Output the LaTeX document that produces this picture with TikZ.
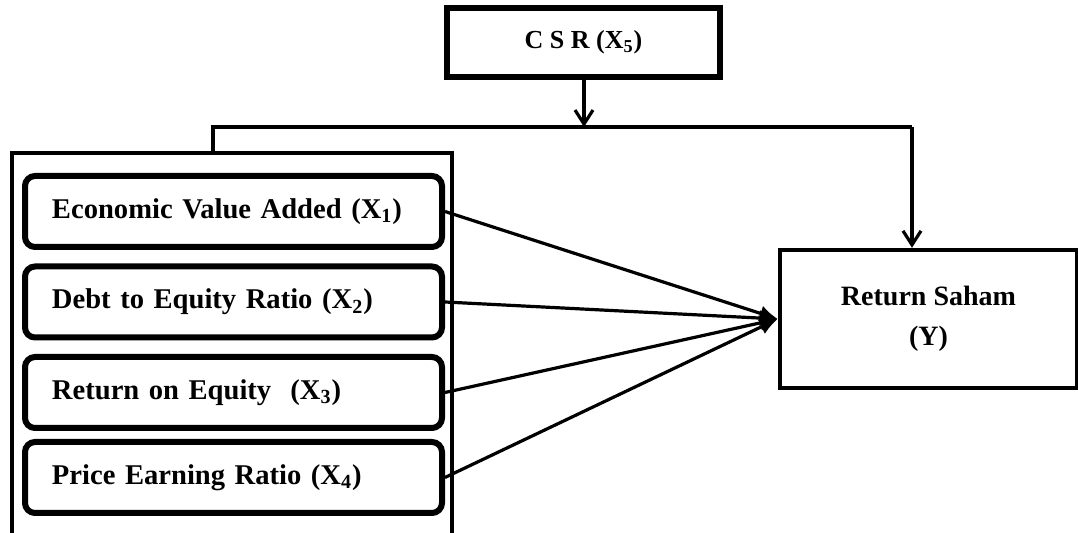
\documentclass[tikz,border=0pt]{standalone}
\usepackage{fontspec}
\setmainfont{Liberation Serif}
\usetikzlibrary{arrows.meta,positioning}
\tikzstyle{var}=[draw, line width=3pt, rounded corners=5pt, text width=181.5pt, inner xsep=13.5pt, minimum height=35.5pt, align=left, font=\fontsize{14.3}{16}\selectfont\bfseries]
\tikzstyle{box}=[draw, line width=2.2pt, align=center, font=\fontsize{14}{20}\selectfont\bfseries]
\tikzstyle{con}=[line width=1.6pt]
\newcommand{\xsub}[1]{(X\textsubscript{#1})}

\begin{document}
\begin{tikzpicture}[x=0.5pt,y=-0.5pt,>={Latex[length=9pt,width=8pt]}]
		    \useasboundingbox (0,0) rectangle (1078,533);
		    \clip (0,0) rectangle (1078,533);
		    \node [box, minimum width=136.5pt, minimum height=34.5pt, line width=2.6pt, font=\fontsize{13}{16}\selectfont\bfseries] (csr) at (583.5,42.5) {C S R \xsub{5}};
		    \node [box, minimum width=220pt, minimum height=196pt] (grp) at (232,349) {};
		    \node [var] (v1) at (233.5,211.5) {Economic Value Added \xsub{1}};
		    \node [var] (v2) at (233.5,302) {Debt to Equity Ratio \xsub{2}};
		    \node [var] (v3) at (233.5,392.5) {Return on Equity~ \xsub{3}};
		    \node [var] (v4) at (233.5,477.5) {Price Earning Ratio \xsub{4}};
		    \node [box, minimum width=148.5pt, minimum height=69pt] (ret) at (928.5,319) {Return Saham\\(Y)};
		    % moderating line
		    \coordinate (tl) at (213,127);
		    \coordinate (tm) at (584,127);
		    \coordinate (tr) at (912,127);
		    \draw [con] (grp.north -| tl) -- (tl) -- (tr);
		    \draw [con, -{Straight Barb[length=7pt,width=9pt,line width=1.6pt]}] (csr.south -| tm) -- (tm);
		    \draw [con, -{Straight Barb[length=7pt,width=9pt,line width=1.6pt]}] (tr) -- (ret.north -| tr);
		    \path[con, ->]
		    (v1.east) edge (ret.west)
		    (v2.east) edge (ret.west)
		    (v3.east) edge (ret.west)
		    (v4.east) edge (ret.west);
		\end{tikzpicture}
\end{document}
